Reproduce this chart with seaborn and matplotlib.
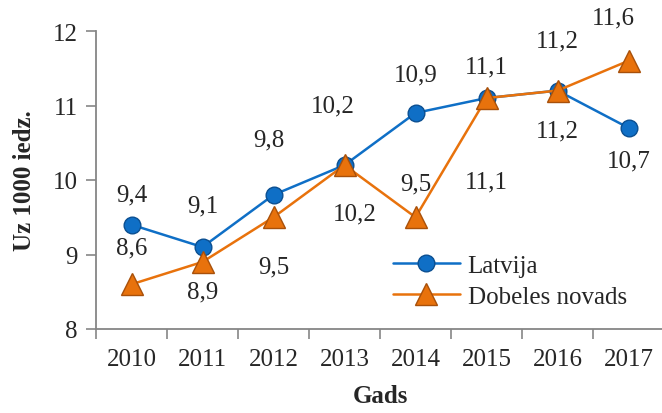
import pandas as pd
import seaborn as sns
import matplotlib.pyplot as plt

years = [2010, 2011, 2012, 2013, 2014, 2015, 2016, 2017]
latvija = [9.4, 9.1, 9.8, 10.2, 10.9, 11.1, 11.2, 10.7]
dobele = [8.6, 8.9, 9.5, 10.2, 9.5, 11.1, 11.2, 11.6]
series_names = ['Latvija', 'Dobeles novads']

# label offsets in pixels (dx, dy), dy positive = up
lat_offsets = [(0, 30), (0, 42), (-5, 55), (-12, 60), (0, 38), (0, 32), (0, -40), (0, -33)]
dob_offsets = [(0, 37), (0, -30), (0, -49), (10, -48), (0, 34), (0, -83), (0, 50), (-15, 43)]

BLUE = '#0F6FC6'
ORANGE = '#E8720C'

sns.set_style('ticks')
plt.rcParams['font.family'] = ['Liberation Serif', 'DejaVu Serif']
plt.rcParams['font.size'] = 18

df = pd.DataFrame({
    'Gads': years * 2,
    'value': latvija + dobele,
    'series': [series_names[0]] * len(years) + [series_names[1]] * len(years),
})

fig = plt.figure(figsize=(6.62, 4.14), dpi=100)
ax = fig.add_axes([96 / 662, 1 - 330 / 414, 568 / 662, 298 / 414])

sns.lineplot(data=df, x='Gads', y='value', hue='series', style='series',
             palette=[BLUE, ORANGE], markers=['o', '^'], dashes=False,
             linewidth=1.8, markersize=12, ax=ax, legend=False)

# marker edges
for line, edge, ms in zip(ax.lines, ['#0B4F91', '#A8500A'], [12, 16]):
    line.set_markeredgecolor(edge)
    line.set_markeredgewidth(1.0)
    line.set_markersize(ms)

for vals, offs in [(latvija, lat_offsets), (dobele, dob_offsets)]:
    for x, v, (dx, dy) in zip(years, vals, offs):
        ax.annotate(f'{v:.1f}'.replace('.', ','), (x, v), xytext=(dx, dy),
                    textcoords='offset pixels', ha='center', va='center',
                    fontsize=18)

ax.set_xlim(2009.5, 2017.5)
ax.set_ylim(8, 12)
ax.set_yticks([8, 9, 10, 11, 12])
ax.set_xticks(years)
ax.set_xticks([y + 0.5 for y in years[:-1]] + [2009.5], minor=True)
ax.tick_params(axis='x', which='major', length=0, pad=14, labelsize=18)
ax.tick_params(axis='x', which='minor', length=7, width=1.2, color='#868686')
ax.tick_params(axis='y', length=7, width=1.2, color='#868686', labelsize=18, pad=6)

for side in ['left', 'bottom']:
    ax.spines[side].set_color('#868686')
    ax.spines[side].set_linewidth(1.3)
sns.despine(ax=ax)

ax.set_xlabel('Gads', fontweight='bold', fontsize=18, labelpad=10)
ax.set_ylabel('Uz 1000 iedz.', fontweight='bold', fontsize=18, labelpad=12)

handles = [
    plt.Line2D([], [], color=BLUE, marker='o', markersize=12, linewidth=1.8,
               markeredgecolor='#0B4F91'),
    plt.Line2D([], [], color=ORANGE, marker='^', markersize=16, linewidth=1.8,
               markeredgecolor='#A8500A'),
]
fig.legend(handles, series_names, loc='center left',
           bbox_to_anchor=(380 / 662, 1 - 282 / 414), frameon=False,
           handlelength=2.7, handletextpad=0.3, labelspacing=0.35,
           fontsize=18, borderpad=0)

fig.savefig('out.png', dpi=100)
